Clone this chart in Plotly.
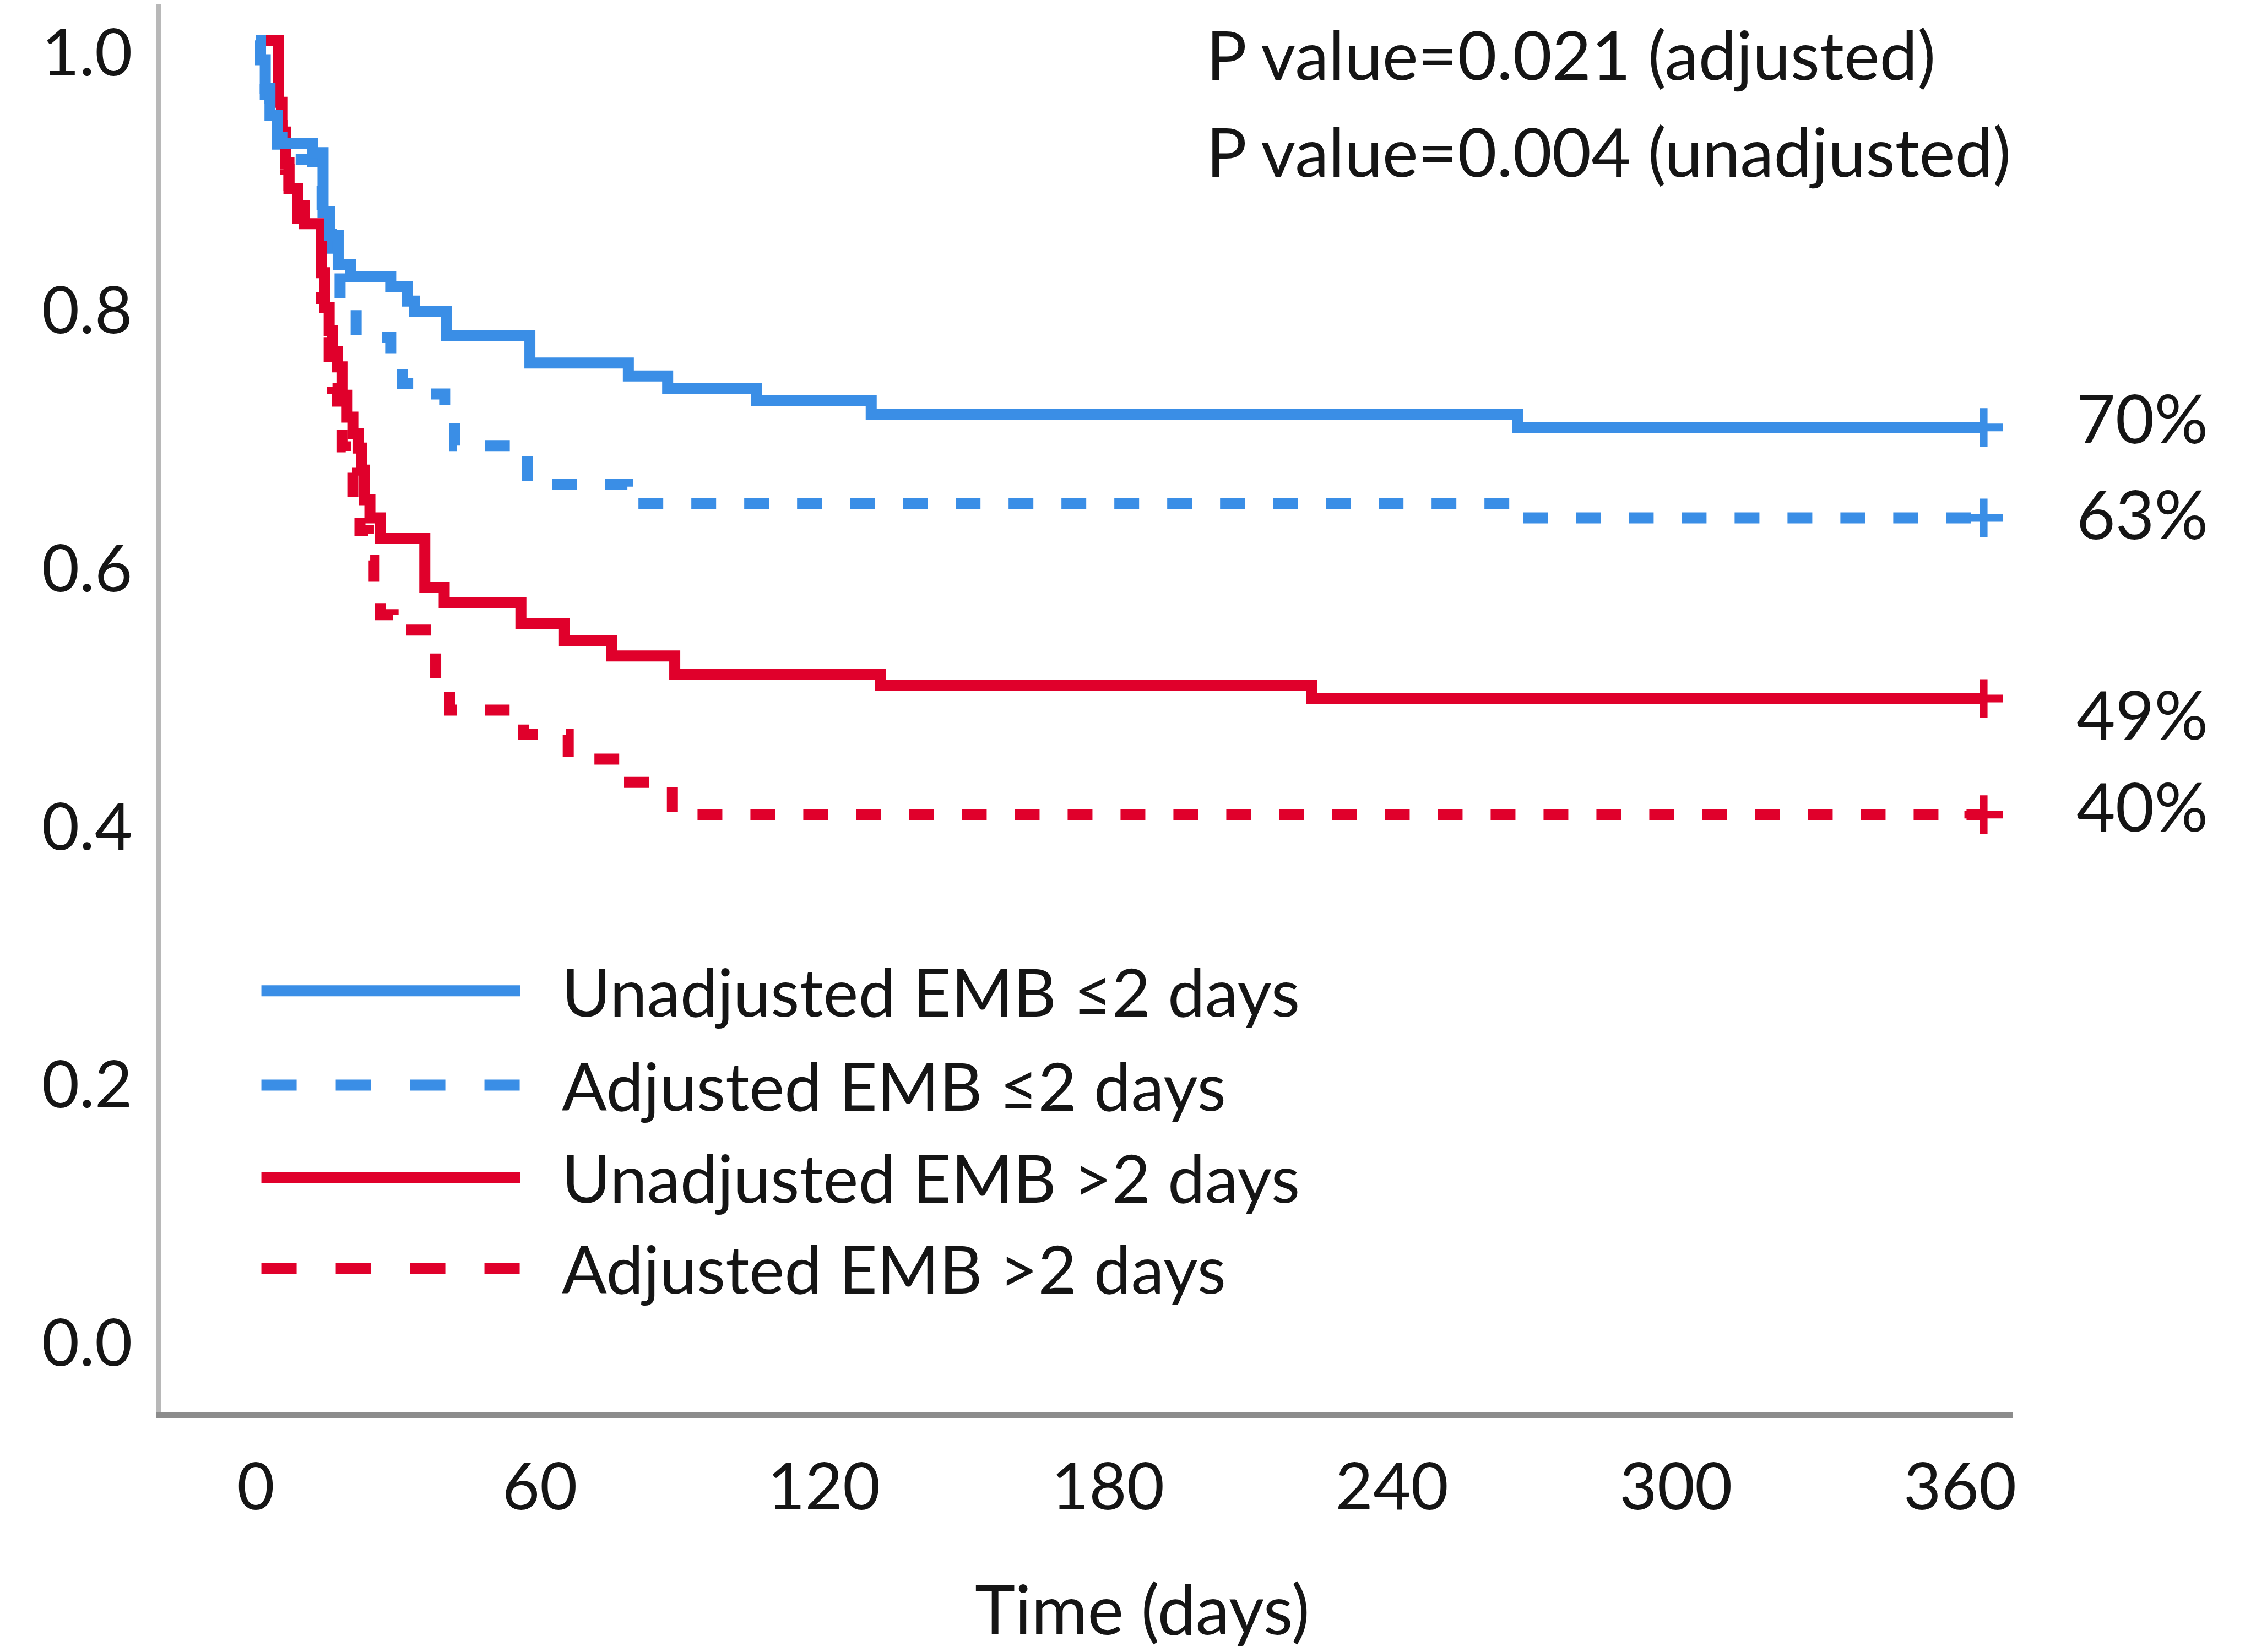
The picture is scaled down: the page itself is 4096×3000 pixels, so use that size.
import plotly.graph_objects as go

# Kaplan-Meier style survival estimates: step start days and survival level from that day on
days_unadj_le2 = [0, 1, 2, 3, 4.5, 5.5, 12, 14.2, 15.6, 17.4, 20, 28.5, 32, 33.5, 40.3,
                  57.9, 78.7, 87, 105.8, 130, 266.6]
surv_unadj_le2 = [1.0, 0.985, 0.963, 0.942, 0.925, 0.920, 0.913, 0.867, 0.849, 0.826, 0.817,
                  0.809, 0.798, 0.790, 0.771, 0.750, 0.740, 0.730, 0.721, 0.710, 0.700]

days_adj_le2 = [0, 1, 2, 3, 4.5, 5.5, 12, 14, 16, 17.8, 21.2, 28.5, 31, 34.7, 39.9, 42,
                57.4, 78.5, 266.6]
surv_adj_le2 = [1.0, 0.983, 0.958, 0.935, 0.915, 0.908, 0.898, 0.860, 0.830, 0.800, 0.770,
                0.752, 0.734, 0.726, 0.705, 0.686, 0.656, 0.641, 0.630]

days_unadj_gt2 = [0, 4.8, 5.5, 6.3, 7.0, 8.8, 10.2, 13.8, 14.6, 15.5, 16.2, 17.2, 18.2, 19.3,
                  20.5, 21.7, 22.3, 22.9, 24.1, 26.3, 35.7, 39.8, 56, 65.2, 75.2, 88.5, 132, 223]
surv_unadj_gt2 = [1.0, 0.952, 0.929, 0.905, 0.885, 0.872, 0.858, 0.820, 0.793, 0.775, 0.759,
                  0.747, 0.725, 0.708, 0.695, 0.684, 0.667, 0.644, 0.630, 0.614, 0.576, 0.564,
                  0.548, 0.535, 0.523, 0.509, 0.500, 0.490]

days_adj_gt2 = [0, 4.8, 5.5, 6.3, 7.0, 8.8, 10.2, 13.8, 14.6, 15.5, 16.2, 17.2, 18.2, 19.0,
                20.5, 22.0, 23.8, 25.0, 26.3, 29.0, 38.0, 41.0, 56.5, 66.0, 75.6, 88.0]
surv_adj_gt2 = [1.0, 0.952, 0.925, 0.900, 0.880, 0.862, 0.845, 0.800, 0.770, 0.750, 0.730,
                0.710, 0.685, 0.665, 0.645, 0.620, 0.597, 0.575, 0.555, 0.543, 0.495, 0.481,
                0.462, 0.443, 0.425, 0.400]

follow_up_end = 365

x_tick_vals = [0, 60, 120, 180, 240, 300, 360]
y_tick_vals = [0.0, 0.2, 0.4, 0.6, 0.8, 1.0]
y_tick_text = ["0.0", "0.2", "0.4", "0.6", "0.8", "1.0"]

p_value_lines = ["P value=0.021 (adjusted)", "P value=0.004 (unadjusted)"]
x_title = "Time (days)"

BLUE = "#3a8ee6"
RED = "#e0002b"
FONT = "Lato, 'Open Sans', sans-serif"
TEXT = "#151515"
PLOT_DASH = "45px,51px"

series = [
    dict(name="Adjusted EMB ≤2 days", days=days_adj_le2, surv=surv_adj_le2, color=BLUE, dash=PLOT_DASH),
    dict(name="Adjusted EMB >2 days", days=days_adj_gt2, surv=surv_adj_gt2, color=RED, dash=PLOT_DASH),
    dict(name="Unadjusted EMB >2 days", days=days_unadj_gt2, surv=surv_unadj_gt2, color=RED, dash="solid"),
    dict(name="Unadjusted EMB ≤2 days", days=days_unadj_le2, surv=surv_unadj_le2, color=BLUE, dash="solid"),
]
legend_order = ["Unadjusted EMB ≤2 days", "Adjusted EMB ≤2 days",
                "Unadjusted EMB >2 days", "Adjusted EMB >2 days"]
label_shift = {"Unadjusted EMB ≤2 days": 18, "Adjusted EMB ≤2 days": 8,
               "Unadjusted EMB >2 days": -28, "Adjusted EMB >2 days": 16}

fig = go.Figure()

for s in series:
    xs = list(s["days"]) + [follow_up_end]
    ys = list(s["surv"]) + [s["surv"][-1]]
    fig.add_trace(go.Scatter(
        x=xs, y=ys, mode="lines", line_shape="hv",
        line=dict(color=s["color"], width=20, dash=s["dash"]),
        showlegend=False, hoverinfo="skip",
    ))

# censoring cross at the end of follow-up
for s in series:
    fig.add_trace(go.Scatter(
        x=[follow_up_end], y=[s["surv"][-1]], mode="markers",
        marker=dict(symbol="cross-thin", size=50, color=s["color"],
                    line=dict(width=14, color=s["color"])),
        showlegend=False, hoverinfo="skip",
    ))

annotations = []
# survival percentage at end of follow-up
for s in series:
    annotations.append(dict(
        x=1.034, xref="paper", y=s["surv"][-1], yref="y",
        text=f"{round(s['surv'][-1] * 100)}%", showarrow=False,
        xanchor="left", yanchor="middle", yshift=label_shift[s["name"]],
        font=dict(family=FONT, size=122, color=TEXT),
    ))

# P values
for txt, py in zip(p_value_lines, [0.965, 0.896]):
    annotations.append(dict(
        x=0.564, xref="paper", y=py, yref="paper", text=txt, showarrow=False,
        xanchor="left", yanchor="middle",
        font=dict(family=FONT, size=123, color=TEXT),
    ))

# x axis title
annotations.append(dict(
    x=0.530, xref="paper", y=-0.139, yref="paper", text=x_title, showarrow=False,
    xanchor="center", yanchor="middle",
    font=dict(family=FONT, size=124, color=TEXT),
))

# legend drawn in the lower-left of the plot area
shapes = []
legend_rows = [0.2995, 0.2325, 0.1670, 0.1025]
by_name = {s["name"]: s for s in series}
for name, ry in zip(legend_order, legend_rows):
    s = by_name[name]
    shapes.append(dict(
        type="line", xref="paper", yref="paper", x0=0.0543, x1=0.194, y0=ry, y1=ry,
        line=dict(color=s["color"], width=20,
                  dash="solid" if s["dash"] == "solid" else "64px,71px"),
    ))
    annotations.append(dict(
        x=0.2160, xref="paper", y=ry, yref="paper", text=name, showarrow=False,
        xanchor="left", yanchor="middle",
        font=dict(family=FONT, size=121, color=TEXT),
    ))

fig.update_layout(
    width=4096, height=3000,
    margin=dict(l=292, r=442, t=8, b=435, autoexpand=False),
    paper_bgcolor="white", plot_bgcolor="white",
    showlegend=False,
    annotations=annotations, shapes=shapes,
    xaxis=dict(
        range=[-20.06, 371.1], tickvals=x_tick_vals, ticktext=[str(v) for v in x_tick_vals],
        showgrid=False, zeroline=False, showline=True, linecolor="#8c8c8c", linewidth=10,
        ticks="", ticklabelstandoff=24, automargin=False,
        tickfont=dict(family=FONT, size=118, color=TEXT),
    ),
    yaxis=dict(
        range=[-0.0633, 1.0279], tickvals=y_tick_vals, ticktext=y_tick_text,
        showgrid=False, zeroline=False, showline=True, linecolor="#b8b8b8", linewidth=8,
        ticks="", ticklabelstandoff=20, ticklabelshift=22, ticklabeloverflow="allow",
        automargin=False,
        tickfont=dict(family=FONT, size=118, color=TEXT),
    ),
)

fig.write_html("out.html")
